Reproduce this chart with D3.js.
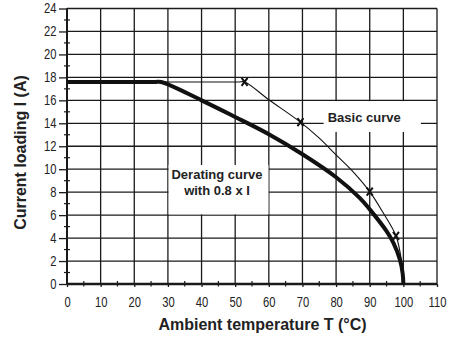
<!DOCTYPE html>
<html><head><meta charset="utf-8">
<script src="https://cdn.jsdelivr.net/npm/d3@7"></script>
<style>
html,body{margin:0;padding:0;background:#fff;}
svg{display:block;}
.tick text{font-family:"Liberation Sans",Arial,sans-serif;font-size:14px;fill:#222;}
.lbl{font-family:"Liberation Sans",Arial,Helvetica,sans-serif;font-weight:bold;fill:#222;}
</style></head>
<body>
<script>
// Data
const xTicks = [0,10,20,30,40,50,60,70,80,90,100,110];
const yTicks = [0,2,4,6,8,10,12,14,16,18,20,22,24];
const xMinor = [5,15,25,35,45,55,65,75,85,95,105];
const yMinor = [1,3,5,7,9,11,13,15,17,19,21,23];
const deratingT = [0,26,28,40,50,60,70,80,87,90,95,97,99,99.8,100];
const deratingI = [17.6,17.6,17.6,16.0,14.55,13.05,11.3,9.3,7.5,6.5,4.6,3.6,2.1,0.9,0];
const basicT = [0,50.8,52.8,60,69.4,75,80,85,90,94,97.8,99.5,100];
const basicI = [17.6,17.6,17.6,16.05,14.1,12.7,11.25,9.8,8.05,6.2,4.2,1.9,0];
const markerT = [52.8,69.4,90,97.8];
const markerI = [17.6,14.1,8.05,4.2];
const xTitle = "Ambient temperature T (°C)";
const yTitle = "Current loading I (A)";
const basicLabel = ["Basic curve"];
const deratingLabel = ["Derating curve","with 0.8 x I"];

const W = 464, H = 338;
const svg = d3.select("body").append("svg").attr("width",W).attr("height",H);
const x = d3.scaleLinear().domain([0,110]).range([67,437]);
const y = d3.scaleLinear().domain([0,24]).range([284,8.5]);
const ink = "#1a1a1a";
const sx = 0.8;

// grid
const g = svg.append("g");
g.selectAll(".vg").data(xTicks).join("line")
  .attr("x1",d=>x(d)).attr("x2",d=>x(d)).attr("y1",y(0)).attr("y2",y(24))
  .attr("stroke",ink).attr("stroke-width",1.3);
g.selectAll(".hg").data(yTicks).join("line")
  .attr("x1",x(0)).attr("x2",x(110)).attr("y1",d=>y(d)).attr("y2",d=>y(d))
  .attr("stroke",ink).attr("stroke-width",1.3);

// axes
const xa = svg.append("g").attr("transform",`translate(0,${y(0)})`)
  .call(d3.axisBottom(x).tickValues(xTicks).tickSize(3).tickPadding(10).tickFormat(d3.format("d")));
const ya = svg.append("g").attr("transform",`translate(${x(0)},0)`)
  .call(d3.axisLeft(y).tickValues(yTicks).tickSize(8).tickPadding(2).tickFormat(d3.format("d")));
[xa,ya].forEach(a=>{a.select(".domain").remove();a.selectAll(".tick line").attr("stroke",ink).attr("stroke-width",1.3);});
xa.selectAll(".tick text").attr("transform",`scale(${sx},1)`);
ya.selectAll(".tick text").attr("transform",`scale(${sx},1)`).attr("x",-10.5/sx);

// minor ticks
svg.selectAll(".xm").data(xMinor).join("line")
  .attr("x1",d=>x(d)).attr("x2",d=>x(d)).attr("y1",y(0)-3).attr("y2",y(0)+2.5)
  .attr("stroke",ink).attr("stroke-width",1.2);
svg.selectAll(".ym").data(yMinor).join("line")
  .attr("x1",x(0)-3).attr("x2",x(0)+3).attr("y1",d=>y(d)).attr("y2",d=>y(d))
  .attr("stroke",ink).attr("stroke-width",1.2);

// axis lines (thicker)
svg.append("line").attr("x1",x(0)).attr("x2",x(110)).attr("y1",y(0)).attr("y2",y(0)).attr("stroke",ink).attr("stroke-width",2.4);
svg.append("line").attr("x1",x(0)).attr("x2",x(0)).attr("y1",y(0)+1).attr("y2",y(24)).attr("stroke",ink).attr("stroke-width",2);

// label boxes
svg.append("rect").attr("x",x(30)+0.7).attr("y",y(10.37)).attr("width",x(59.9)-x(30)-0.7).attr("height",y(6.07)-y(10.37)).attr("fill","#fff");
svg.append("rect").attr("x",x(76.3)).attr("y",y(15.93)).attr("width",x(105.2)-x(76.3)).attr("height",y(13.25)-y(15.93)).attr("fill","#fff");

// curves
const line = d3.line().x(d=>x(d[0])).y(d=>y(d[1])).curve(d3.curveCatmullRom.alpha(0.5));
svg.append("path").attr("d",line(basicT.map((t,i)=>[t,basicI[i]])))
  .attr("fill","none").attr("stroke","#111").attr("stroke-width",1.1);
svg.append("path").attr("d",line(deratingT.map((t,i)=>[t,deratingI[i]])))
  .attr("fill","none").attr("stroke","#111").attr("stroke-width",4).attr("stroke-linejoin","round");

// markers
svg.selectAll(".mk").data(markerT.map((t,i)=>[t,markerI[i]])).join("path")
  .attr("d",d=>{const cx=x(d[0]),cy=y(d[1]);return `M${cx-3},${cy-4}L${cx+3},${cy+4}M${cx+3},${cy-4}L${cx-3},${cy+4}`;})
  .attr("stroke","#111").attr("stroke-width",2).attr("fill","none");

// labels
svg.selectAll(".bl").data(basicLabel).join("text").attr("class","lbl")
  .attr("x",x(77.5)).attr("y",y(14.15)).attr("font-size",13).text(d=>d);
svg.selectAll(".dl").data(deratingLabel).join("text").attr("class","lbl")
  .attr("text-anchor","middle").attr("x",217).attr("y",(d,i)=>179+i*16.3).attr("font-size",13).text(d=>d);

// titles
svg.append("text").attr("class","lbl").attr("text-anchor","middle").attr("font-size",16)
  .attr("x",262.5).attr("y",330).text(xTitle);
svg.append("text").attr("class","lbl").attr("text-anchor","middle").attr("font-size",16)
  .attr("transform","translate(25.5,152.5) rotate(-90)").text(yTitle);
</script>
</body></html>
